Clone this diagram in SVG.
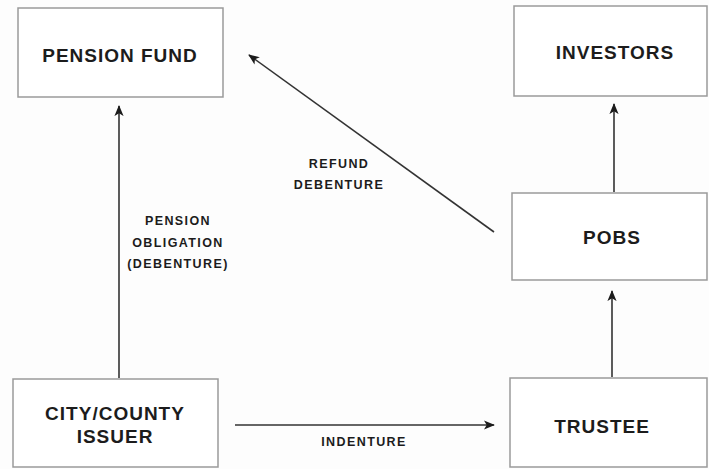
<svg xmlns="http://www.w3.org/2000/svg" width="709" height="469" viewBox="0 0 709 469">
  <defs>
    <style>
      .box { fill: #ffffff; stroke: #9a9a9a; stroke-width: 1.5; }
      .node { font-family: "Liberation Sans", Arial, sans-serif; font-weight: bold; font-size: 19px; letter-spacing: 1px; fill: #1c1c1c; text-anchor: middle; }
      .lbl { font-family: "Liberation Sans", Arial, sans-serif; font-weight: bold; font-size: 12.5px; letter-spacing: 1.4px; fill: #1c1c1c; text-anchor: middle; }
      .edge { stroke: #333333; stroke-width: 1.6; fill: none; marker-end: url(#head); }
    </style>
    <marker id="head" viewBox="0 0 12 10" refX="11" refY="5" markerWidth="11" markerHeight="10" markerUnits="userSpaceOnUse" orient="auto">
      <path d="M0,0 L12,5 L0,10 L3,5 Z" fill="#1c1c1c"/>
    </marker>
  </defs>
  <rect width="709" height="469" fill="#fdfdfd"/>

  <g id="connectors">
    <line class="edge" x1="119" y1="378" x2="119" y2="106"/>
    <line class="edge" x1="494" y1="232" x2="249" y2="55"/>
    <line class="edge" x1="614" y1="192" x2="614" y2="104"/>
    <line class="edge" x1="612" y1="377" x2="612" y2="291"/>
    <line class="edge" x1="235" y1="425" x2="494" y2="425"/>
  </g>

  <g id="pension-fund">
    <rect class="box" x="18" y="8" width="205" height="89"/>
    <text class="node" x="120" y="62">PENSION FUND</text>
  </g>
  <g id="investors">
    <rect class="box" x="514" y="6" width="193" height="90"/>
    <text class="node" x="615" y="59">INVESTORS</text>
  </g>
  <g id="pobs">
    <rect class="box" x="512" y="193" width="195" height="87"/>
    <text class="node" x="612" y="244">POBS</text>
  </g>
  <g id="city-county-issuer">
    <rect class="box" x="13" y="379" width="205" height="88"/>
    <text class="node" x="115" y="420">CITY/COUNTY</text>
    <text class="node" x="115" y="443">ISSUER</text>
  </g>
  <g id="trustee">
    <rect class="box" x="510" y="378" width="197" height="89"/>
    <text class="node" x="602" y="433">TRUSTEE</text>
  </g>

  <g id="labels">
    <text class="lbl" x="178" y="225">PENSION</text>
    <text class="lbl" x="178" y="247">OBLIGATION</text>
    <text class="lbl" x="178" y="268">(DEBENTURE)</text>
    <text class="lbl" x="339" y="168">REFUND</text>
    <text class="lbl" x="339" y="189">DEBENTURE</text>
    <text class="lbl" x="364" y="446">INDENTURE</text>
  </g>
</svg>
